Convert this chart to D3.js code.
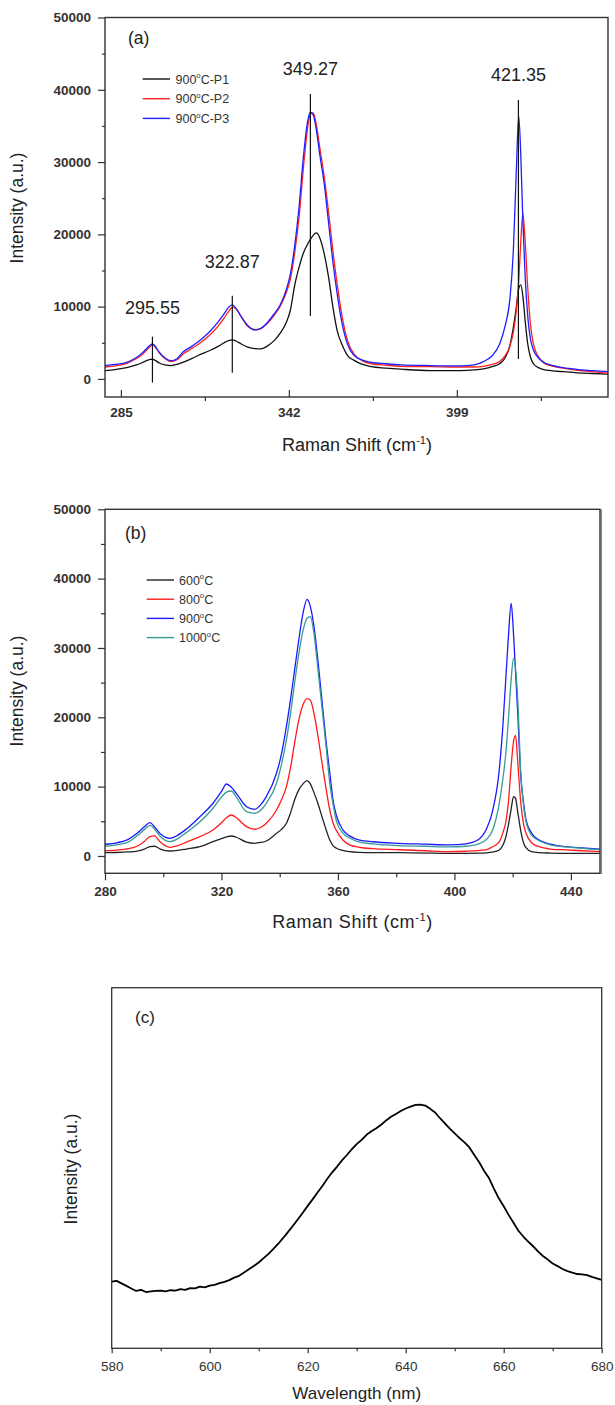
<!DOCTYPE html>
<html><head><meta charset="utf-8">
<script src="https://cdn.jsdelivr.net/npm/d3@7"></script>
<style>body{margin:0;background:#fff}svg{display:block}text{font-family:"Liberation Sans",Arial,sans-serif}</style>
</head><body><svg id="chart" width="615" height="1405"></svg>
<script>
// ---------- Panel (a) data ----------
const shiftA = [279.6,283,287,290,292,293.5,295,295.7,296.5,298,300,302,304,306,309,312,315,318,320,321.5,322.8,324,326,328,330.5,332.5,334.5,337,339,341,342.5,344,345.5,347,348.3,349.3,350.3,351.3,352.5,354,355.5,357,358.5,360,362,364,367,370,375,380,390,400,405,408,411,413.5,415.5,417,418.2,419.2,420,420.7,421.4,422.2,423,424,425,426.5,428.5,431,435,440,445,450.3];
const p1A = [1150,1300,1560,1900,2200,2500,2700,2720,2600,2200,1950,1850,2000,2300,2800,3400,3900,4500,5000,5300,5400,5250,4800,4400,4200,4150,4500,5300,6300,7700,9500,13000,15500,17500,18600,19300,19900,20200,19500,17300,14000,9800,6500,4800,3200,2600,2000,1700,1500,1350,1150,1150,1250,1400,1700,2100,3000,4600,7200,10000,12500,13000,11500,8000,5000,3000,2100,1600,1300,1150,1000,850,750,650];
const p2A = [1650,1800,2150,2750,3300,3900,4500,4700,4500,3600,2800,2400,2650,3400,4200,5000,6000,7300,8400,9300,9900,9700,8500,7300,6800,6950,7600,8800,10000,11800,13800,17500,22500,29500,34500,36600,36800,35200,32000,28000,23000,17500,12800,8800,5200,3500,2500,2100,1900,1750,1700,1650,1650,1750,2000,2400,3300,4500,6500,9500,13500,19000,22900,19000,13000,7500,4800,3200,2200,1800,1500,1200,1000,800];
const p3A = [1840,2000,2300,2900,3500,4100,4700,4840,4600,3700,2900,2530,2800,3700,4500,5400,6500,7900,9000,9900,10250,9800,8500,7400,6780,7000,7700,9000,10200,12200,14500,18500,24000,31000,35500,36900,36500,34500,31000,27000,21500,16000,11500,7800,4700,3300,2600,2300,2100,1950,1850,1800,1950,2400,3200,4800,7500,11000,18000,29000,36400,31000,22000,14000,9000,5500,4000,3000,2300,1900,1550,1300,1150,1000];
const namesA = ["900°C-P1","900°C-P2","900°C-P3"];
const xTicksA = [285,342,399];
const xMinorA = [313.5,370.5,427.5];
const yTicks = [0,10000,20000,30000,40000,50000];
const yMinor = [5000,15000,25000,35000,45000];
const peakPos = [295.7,322.8,349.3,419.9];
const peakText = ["295.55","322.87","349.27","421.35"];
const peakTop = [5850,11520,39420,38590];
const peakBottom = [-510,870,8710,2770];
const peakLabelY = [9000,15350,42000,41200];

// ---------- Panel (b) data ----------
const shiftB = [280,284,288,291,293.5,295.4,297,299,302.3,305,308,312.6,317.1,320,321.7,323.4,325.1,328.6,331.4,333.5,335.4,338.9,340.5,342.3,343.7,345.1,346.5,348,349.4,350.5,351.8,353.1,354.5,356,357.2,358.3,359.5,361.7,364,367.4,372,381,390,398.3,404,408,411,413,415.4,416.6,417.7,418.6,419.5,420.3,421,421.7,422.8,423.8,424.6,426.5,429.1,433,438.3,444,450];
const t600 = [480,500,580,700,1000,1350,1400,1000,720,800,1000,1340,2060,2500,2750,2880,2700,2000,1830,1950,2160,3270,3800,4710,6200,8080,9500,10400,10860,10400,9100,7600,5700,3700,2300,1500,1110,800,620,520,480,470,420,380,380,400,450,550,870,1500,2800,4600,6800,8550,8300,6500,3600,1830,1200,620,480,420,380,380,380];
const t800 = [770,850,1050,1400,2100,2800,2900,2000,1250,1500,2000,2790,3750,4800,5500,5910,5500,4230,3850,4100,4710,6630,8000,10000,12700,16250,19500,21800,22700,22500,20500,17400,13500,9500,6630,4800,3650,2300,1590,1250,1050,900,750,620,680,770,900,1300,2060,3300,5000,8000,13000,16500,17400,13840,7600,4500,3270,1900,1340,1000,870,750,620];
const t900 = [1690,1900,2400,3270,4200,4800,4200,3200,2550,3000,3900,5670,7600,9300,10380,9900,9040,7100,6730,7400,8550,11930,14500,18650,22500,26800,31000,35000,37000,36000,33000,28260,22500,16250,12000,8080,5800,3750,2900,2300,2050,1830,1700,1590,1750,2300,3900,6300,12400,18500,25900,32000,36440,32000,26500,21000,11400,7500,5200,3300,2300,1700,1340,1150,970];
const t1000 = [1400,1600,2000,2900,3800,4400,3900,2800,2060,2500,3400,4950,6880,8500,9200,9370,8500,6390,6150,6600,7600,10480,13000,16730,20500,24900,29000,32500,34300,34500,32000,27000,21500,15500,10500,7500,5000,3300,2600,2000,1750,1500,1400,1300,1400,1700,2400,3600,7600,11000,15000,20000,25500,28500,27000,23000,12000,7000,5000,3000,2200,1600,1300,1100,900];
const namesB = ["600°C","800°C","900°C","1000°C"];
const xTicksB = [280,320,360,400,440];
const xMinorB = [300,340,380,420];

// ---------- Panel (c) data ----------
const wavelength = [580,581,582,583,584,585,586,587,588,589,590,591,592,593,594,595,596,597,598,599,600,601,602,603,604,605,606,607,608,609,610,611,612,613,614,615,616,617,618,619,620,621,622,623,624,625,626,627,628,629,630,631,632,633,634,635,636,637,638,639,640,641,642,643,644,645,646,647,648,649,650,651,652,653,654,655,656,657,658,659,660,661,662,663,664,665,666,667,668,669,670,671,672,673,674,675,676,677,678,679,680];
const plIntensity = [18.5,18.7,18.0,17.3,16.6,15.9,16.2,15.6,15.8,15.9,16.0,15.8,16.1,16.0,16.4,16.2,16.7,16.6,17.1,16.9,17.4,17.6,18.1,18.4,18.9,19.6,20.1,21.0,21.9,22.8,23.8,25.0,26.2,27.6,29.0,30.6,32.3,34.0,35.8,37.6,39.5,41.3,43.2,45.0,47.0,48.8,50.4,52.1,53.6,55.2,56.6,57.8,59.2,60.2,61.0,62.0,63.2,64.2,65.0,65.8,66.5,67.0,67.5,67.6,67.3,66.4,65.4,63.8,62.4,60.9,59.6,58.3,57.1,55.7,53.6,51.6,49.2,47.2,44.3,41.6,39.4,37.0,34.8,32.6,31.0,29.6,28.3,26.9,25.6,24.6,23.5,22.8,22.0,21.4,21.0,20.6,20.5,20.3,19.8,19.4,19.0];
const xTicksC = [580,600,620,640,660,680];
const xMinorC = [590,610,630,650,670];

// ---------- drawing ----------
const svg = d3.select("#chart");
const fmt = d3.format("d");

function degText(sel, label, size) {
  const parts = label.split("°");
  sel.text(null);
  sel.append("tspan").text(parts[0]);
  sel.append("tspan").attr("font-size", size*0.62).attr("dy", -size*0.42).text("o");
  sel.append("tspan").attr("dy", size*0.42).text(parts[1]);
}
function ramanTitle(g, x, y, spacing) {
  const t = g.append("text").attr("x", x).attr("y", y).attr("text-anchor","middle")
    .attr("font-size", 18).attr("fill","#222").attr("letter-spacing", spacing);
  t.append("tspan").text("Raman Shift (cm");
  t.append("tspan").attr("font-size", 11).attr("dy", -7).text("-1");
  t.append("tspan").attr("dy", 7).text(")");
}
function yTitle(g, x, y) {
  g.append("text").attr("transform", `translate(${x},${y}) rotate(-90)`)
    .attr("text-anchor","middle").attr("dominant-baseline","middle")
    .attr("font-size", 17.5).attr("fill","#222").text("Intensity (a.u.)");
}
function styleAxis(g, size, weight) {
  g.select(".domain").remove();
  g.selectAll(".tick line").attr("stroke","#333").attr("stroke-width",1.2);
  g.selectAll(".tick text").attr("font-size", size).attr("font-weight", weight).attr("fill","#333")
    .attr("font-family","Liberation Sans, Arial, sans-serif");
}

// ===== Panel (a) =====
{
  const x = d3.scaleLinear().domain([279.6,450.3]).range([105,608]);
  const y = d3.scaleLinear().domain([-2500,50000]).range([397,17.5]);
  const g = svg.append("g");
  g.append("clipPath").attr("id","clipA").append("rect")
    .attr("x",105).attr("y",17.5).attr("width",503).attr("height",379.5);
  const ly = g.append("g").attr("transform","translate(105,0)")
    .call(d3.axisLeft(y).tickValues(yTicks).tickSize(7).tickPadding(7).tickFormat(fmt));
  styleAxis(ly, 13.5, "bold");
  const lym = g.append("g").attr("transform","translate(105,0)")
    .call(d3.axisLeft(y).tickValues(yMinor).tickSize(3).tickFormat(""));
  styleAxis(lym, 1, "normal");
  const lx = g.append("g").attr("transform","translate(0,397)")
    .call(d3.axisBottom(x).tickValues(xTicksA).tickSize(-7).tickPadding(10).tickFormat(fmt));
  styleAxis(lx, 13.5, "bold");
  const lxm = g.append("g").attr("transform","translate(0,397)")
    .call(d3.axisBottom(x).tickValues(xMinorA).tickSize(4).tickFormat(""));
  styleAxis(lxm, 1, "normal");

  const colors = ["#111111","#ff2020","#1e1eff"];
  const sets = [p1A,p2A,p3A];
  const line = d3.line().x((d,i)=>x(shiftA[i])).y(d=>y(d)).curve(d3.curveMonotoneX);
  const pg = g.append("g").attr("clip-path","url(#clipA)");
  sets.forEach((s,k)=>{
    pg.append("path").datum(s).attr("d", line).attr("fill","none")
      .attr("stroke", colors[k]).attr("stroke-width",1.3);
  });
  peakPos.forEach((p,i)=>{
    g.append("line").attr("x1",x(p)).attr("x2",x(p)).attr("y1",y(peakTop[i])).attr("y2",y(peakBottom[i]))
      .attr("stroke","#111").attr("stroke-width",1.2);
    g.append("text").attr("x",x(p)).attr("y",y(peakLabelY[i])).attr("text-anchor","middle")
      .attr("font-size",18).attr("fill","#222").text(peakText[i]);
  });
  g.append("rect").attr("x",105).attr("y",17.5).attr("width",503).attr("height",379.5)
    .attr("fill","none").attr("stroke","#333").attr("stroke-width",1.4);
  namesA.forEach((n,i)=>{
    const yy = 79 + i*19.7;
    g.append("line").attr("x1",142.7).attr("x2",170).attr("y1",yy).attr("y2",yy)
      .attr("stroke",colors[i]).attr("stroke-width",1.4);
    const t = g.append("text").attr("x",175.5).attr("y",yy+4.5).attr("font-size",12.5).attr("fill","#333");
    degText(t, n, 12.5);
  });
  g.append("text").attr("x",128).attr("y",44).attr("font-size",17.5).attr("fill","#222").text("(a)");
  ramanTitle(g, 357, 451, 0);
  yTitle(g, 18, 208);
}

// ===== Panel (b) =====
{
  const x = d3.scaleLinear().domain([280,450]).range([105,600]);
  const y = d3.scaleLinear().domain([-2500,50000]).range([873.3,509.3]);
  const g = svg.append("g");
  g.append("clipPath").attr("id","clipB").append("rect")
    .attr("x",105).attr("y",509.3).attr("width",495).attr("height",364);
  const ly = g.append("g").attr("transform","translate(105,0)")
    .call(d3.axisLeft(y).tickValues(yTicks).tickSize(7).tickPadding(7).tickFormat(fmt));
  styleAxis(ly, 13.5, "bold");
  const lym = g.append("g").attr("transform","translate(105,0)")
    .call(d3.axisLeft(y).tickValues(yMinor).tickSize(4).tickFormat(""));
  styleAxis(lym, 1, "normal");
  const lx = g.append("g").attr("transform","translate(0,873.3)")
    .call(d3.axisBottom(x).tickValues(xTicksB).tickSize(7).tickPadding(6).tickFormat(fmt));
  styleAxis(lx, 13.5, "bold");
  const lxm = g.append("g").attr("transform","translate(0,873.3)")
    .call(d3.axisBottom(x).tickValues(xMinorB).tickSize(4).tickFormat(""));
  styleAxis(lxm, 1, "normal");

  const colors = ["#222222","#ff1a1a","#1a1aff","#379b95"];
  const sets = [t600,t800,t900,t1000];
  const line = d3.line().x((d,i)=>x(shiftB[i])).y(d=>y(d)).curve(d3.curveMonotoneX);
  const pg = g.append("g").attr("clip-path","url(#clipB)");
  sets.forEach((s,k)=>{
    pg.append("path").datum(s).attr("d", line).attr("fill","none")
      .attr("stroke", colors[k]).attr("stroke-width",1.3);
  });
  g.append("rect").attr("x",105).attr("y",509.3).attr("width",495).attr("height",364)
    .attr("fill","none").attr("stroke","#333").attr("stroke-width",1.4);
  g.append("line").attr("x1",601).attr("x2",601).attr("y1",509.3).attr("y2",874)
    .attr("stroke","#666").attr("stroke-width",1.6);
  namesB.forEach((n,i)=>{
    const yy = 580 + i*19.2;
    g.append("line").attr("x1",146.7).attr("x2",174).attr("y1",yy).attr("y2",yy)
      .attr("stroke",colors[i]).attr("stroke-width",1.4);
    const t = g.append("text").attr("x",179).attr("y",yy+4.5).attr("font-size",12.5).attr("fill","#333");
    degText(t, n, 12.5);
  });
  g.append("text").attr("x",125).attr("y",539).attr("font-size",17.5).attr("fill","#222").text("(b)");
  ramanTitle(g, 352.5, 928, 0.6);
  yTitle(g, 18, 691);
}

// ===== Panel (c) =====
{
  const x = d3.scaleLinear().domain([580,680]).range([111.7,601.7]);
  const y = d3.scaleLinear().domain([0,100]).range([1348.3,987.7]);
  const g = svg.append("g");
  const lx = g.append("g").attr("transform","translate(0,1348.3)")
    .call(d3.axisBottom(x).tickValues(xTicksC).tickSize(5).tickPadding(8).tickFormat(fmt));
  styleAxis(lx, 13.5, "normal");
  const lxm = g.append("g").attr("transform","translate(0,1348.3)")
    .call(d3.axisBottom(x).tickValues(xMinorC).tickSize(3).tickFormat(""));
  styleAxis(lxm, 1, "normal");
  const line = d3.line().x((d,i)=>x(wavelength[i])).y(d=>y(d));
  g.append("path").datum(plIntensity).attr("d", line).attr("fill","none")
    .attr("stroke","#000").attr("stroke-width",1.8).attr("stroke-linejoin","round");
  g.append("rect").attr("x",111.7).attr("y",987.7).attr("width",490).attr("height",360.6)
    .attr("fill","none").attr("stroke","#333").attr("stroke-width",1.3);
  g.append("text").attr("x",135).attr("y",1023).attr("font-size",17).attr("fill","#222").text("(c)");
  g.append("text").attr("x",356.7).attr("y",1399).attr("text-anchor","middle")
    .attr("font-size",17).attr("fill","#222").text("Wavelength (nm)");
  yTitle(g, 72.7, 1169);
}
</script></body></html>
